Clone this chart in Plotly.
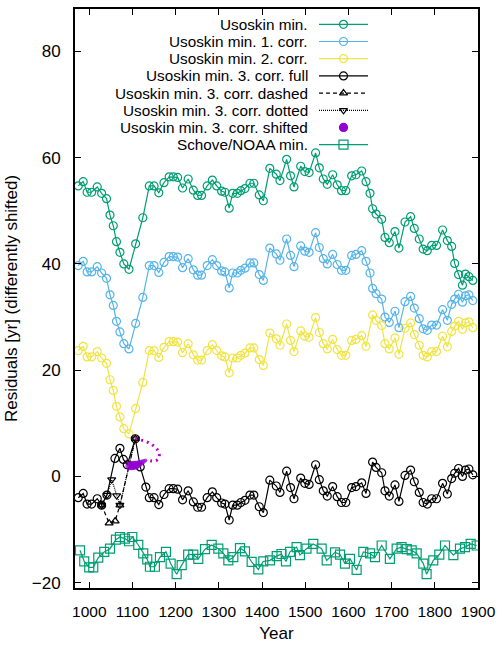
import plotly.graph_objects as go

# ---------------- data ----------------
years_usoskin = [974.5, 986, 995, 1005.5, 1018.5, 1028.6, 1040, 1048, 1055.6, 1063,
                 1071, 1080, 1092, 1107.4, 1124, 1139, 1150, 1161, 1173, 1185,
                 1194.5, 1204.7, 1216, 1229, 1241, 1251, 1260, 1273, 1285, 1295,
                 1306.5, 1314, 1324, 1332, 1342.7, 1351, 1360.5, 1372, 1381, 1393.6,
                 1403, 1418, 1433, 1441.5, 1457, 1466, 1474, 1489.5, 1499, 1509,
                 1524, 1532.6, 1541.8, 1551, 1563.5, 1574, 1584, 1594, 1607.5, 1617.5,
                 1630.7, 1640.7, 1650, 1656, 1664, 1677, 1684.6, 1694.6, 1707.8, 1717,
                 1731, 1744, 1752.5, 1764, 1773, 1782.6, 1792.7, 1804, 1818, 1829,
                 1839, 1846, 1855, 1864, 1871, 1879, 1888]

usoskin_min = [54.7, 55.5, 53.5, 53.5, 54.5, 53.3, 52.3, 49.2, 47.2, 44.2,
               42.2, 40.0, 39.0, 43.8, 48.7, 54.7, 54.7, 53.4, 55.3, 56.4,
               56.4, 56.3, 54.3, 56.0, 53.9, 52.9, 52.9, 54.7, 55.8, 54.7,
               53.7, 53.5, 50.5, 53.3, 53.3, 53.8, 54.2, 55.2, 55.2, 53.0,
               51.9, 58.0, 56.9, 55.7, 59.7, 56.6, 54.5, 58.4, 57.4, 57.2,
               60.9, 58.1, 56.0, 55.0, 56.8, 54.9, 53.8, 53.8, 56.6, 56.8,
               57.5, 55.5, 53.3, 50.4, 49.4, 48.4, 45.0, 44.0, 46.1, 43.0,
               47.9, 48.9, 46.7, 44.7, 42.8, 42.5, 43.5, 43.5, 46.4, 44.4,
               43.3, 40.1, 38.0, 36.0, 38.1, 37.6, 36.9]

usoskin_corr1 = [39.7, 40.5, 38.5, 38.5, 39.5, 38.3, 37.3, 34.2, 32.2, 29.2,
                 27.2, 25.0, 24.0, 28.8, 33.7, 39.7, 39.7, 38.4, 40.3, 41.4,
                 41.4, 41.3, 39.3, 41.0, 38.9, 37.9, 37.9, 39.7, 40.8, 39.7,
                 38.7, 38.5, 35.5, 38.3, 38.3, 38.8, 39.2, 40.2, 40.2, 38.0,
                 36.9, 43.0, 41.9, 40.7, 44.7, 41.6, 39.5, 43.4, 42.4, 42.2,
                 45.9, 43.1, 41.0, 40.0, 41.8, 39.9, 38.8, 38.8, 41.6, 41.8,
                 42.5, 40.5, 38.3, 35.4, 34.4, 33.4, 30.0, 29.0, 31.1, 28.0,
                 32.9, 33.9, 31.7, 29.7, 27.8, 27.5, 28.5, 28.5, 31.4, 29.4,
                 32.4, 33.4, 34.3, 32.8, 34.0, 34.2, 33.1]

years_corr2 = [974.5, 986, 995, 1005.5, 1018.5, 1028.6, 1040, 1048, 1055.6, 1063,
               1071, 1080, 1092, 1107.4, 1124, 1139, 1150, 1161, 1173, 1185,
               1194.5, 1204.7, 1216, 1229, 1241, 1251, 1260, 1273, 1285, 1295,
               1306.5, 1314, 1324, 1332, 1342.7, 1351, 1360.5, 1372, 1381, 1393.6,
               1403, 1418, 1433, 1441.5, 1457, 1466, 1474, 1489.5, 1499, 1509,
               1524, 1532.6, 1541.8, 1551, 1563.5, 1574, 1584, 1594, 1607.5, 1617.5,
               1630.7, 1640.7, 1656, 1664, 1677, 1684.6, 1694.6, 1707.8, 1717,
               1731, 1744, 1752.5, 1764, 1773, 1782.6, 1792.7, 1804, 1818, 1829,
               1839, 1846, 1855, 1864, 1871, 1879, 1888]

usoskin_corr2 = [23.7, 24.5, 22.5, 22.5, 23.5, 22.3, 21.3, 18.2, 16.2, 13.2,
                 11.2, 9.0, 8.0, 12.8, 17.7, 23.7, 23.7, 22.4, 24.3, 25.4,
                 25.4, 25.3, 23.3, 25.0, 22.9, 21.9, 21.9, 23.7, 24.8, 23.7,
                 22.7, 22.5, 19.5, 22.3, 22.3, 22.8, 23.2, 24.2, 24.2, 22.0,
                 20.9, 27.0, 25.9, 24.7, 28.7, 25.6, 23.5, 27.4, 26.4, 26.2,
                 29.9, 27.1, 25.0, 24.0, 25.8, 23.9, 22.8, 22.8, 25.6, 25.8,
                 26.5, 24.5, 30.4, 29.4, 28.4, 25.0, 24.0, 26.1, 23.0,
                 27.9, 28.9, 26.7, 24.7, 22.8, 22.5, 23.5, 23.5, 26.4, 24.4,
                 27.3, 28.3, 29.2, 27.7, 28.9, 29.1, 28.0]

years_corr3 = [974.5, 986, 995, 1005.5, 1018.5, 1028.6, 1041, 1059.5, 1071, 1079,
               1088, 1106.6, 1118, 1131, 1139, 1150, 1161, 1173, 1185,
               1194.5, 1204.7, 1216, 1229, 1241, 1251, 1260, 1273, 1285, 1295,
               1306.5, 1314, 1324, 1332, 1342.7, 1351, 1360.5, 1372, 1381, 1393.6,
               1403, 1418, 1433, 1441.5, 1457, 1466, 1474, 1489.5, 1499, 1509,
               1524, 1532.6, 1541.8, 1551, 1563.5, 1574, 1584, 1594, 1607.5, 1617.5,
               1630.7, 1640.7, 1656, 1664, 1677, 1684.6, 1694.6, 1707.8, 1717,
               1731, 1744, 1752.5, 1764, 1773, 1782.6, 1792.7, 1804, 1818, 1829,
               1839, 1846, 1855, 1864, 1871, 1879, 1888]

usoskin_corr3_full = [-4.0, -3.2, -5.2, -5.2, -4.2, -5.4, -3.5, 3.4, 5.3, 3.2,
                      2.2, 7.1, 1.8, -2.0, -4.0, -4.0, -5.3, -3.4, -2.3,
                      -2.3, -2.4, -4.4, -2.7, -4.8, -5.8, -5.8, -4.0, -2.9, -4.0,
                      -5.0, -5.2, -8.2, -5.4, -5.4, -4.9, -4.5, -3.5, -3.5, -5.7,
                      -6.8, -0.7, -1.8, -3.0, 1.0, -2.1, -4.2, -0.3, -1.3, -1.5,
                      2.2, -0.6, -2.7, -3.7, -1.9, -3.8, -4.9, -4.9, -2.1, -1.9,
                      -1.2, -3.2, 2.7, 1.7, 0.7, -2.7, -3.7, -1.6, -4.7,
                      0.2, 1.2, -1.0, -3.0, -4.9, -5.2, -4.2, -4.2, -1.3, -3.3,
                      -0.4, 0.6, 1.5, 0.0, 1.2, 1.4, 0.3]

years_dashed = [1028.6, 1046, 1060, 1071, 1106.6]
corr3_dashed = [-5.4, -8.8, -8.4, -5.4, 7.1]

years_dotted = [1028.6, 1041, 1052, 1063.4, 1071, 1106.6]
corr3_dotted = [-5.4, -3.5, -0.6, -3.6, -5.4, 7.1]

years_shifted = [1094, 1098, 1102, 1106, 1110, 1115, 1120, 1125, 1130]
corr3_shifted = [2.0, 2.0, 2.1, 2.1, 2.2, 2.4, 2.6, 2.8, 3.0]

arc_years = [1108, 1118, 1127, 1139, 1150, 1158, 1162, 1161, 1155, 1146, 1137]
arc_values = [7.1, 6.9, 6.7, 6.3, 5.7, 5.0, 4.2, 3.4, 3.0, 2.9, 3.0]

years_schove = [978.5, 988.4, 1000, 1009.3, 1020.9, 1034.7, 1048, 1061.8, 1071, 1082.7,
                1092, 1099.6, 1113.5, 1125, 1134.3, 1140.5, 1152, 1163.7, 1177.6, 1188.4,
                1202.3, 1214, 1229, 1240.8, 1252.4, 1268, 1283.4, 1298.8, 1310.4, 1322,
                1333.5, 1349, 1360.5, 1376, 1391.4, 1402.9, 1418.4, 1434, 1445, 1455.4,
                1464.7, 1480, 1487.8, 1503, 1518.6, 1538, 1549.7, 1569, 1580.5, 1592,
                1603.6, 1619, 1634.5, 1650, 1661.5, 1677, 1696, 1711.7, 1723, 1735,
                1746.5, 1758, 1773.4, 1781, 1796.5, 1810.4, 1823.6, 1843, 1858.3, 1870,
                1883, 1897]
schove_min = [-13.9, -16.0, -17.1, -17.1, -15.3, -14.2, -13.6, -11.9, -11.4, -11.7,
              -12.2, -11.4, -12.9, -14.5, -15.6, -17.0, -17.0, -15.2, -14.2, -16.4,
              -18.4, -16.7, -14.7, -14.7, -15.5, -13.7, -12.9, -13.6, -14.5, -15.8,
              -15.2, -13.5, -14.1, -16.1, -17.5, -16.0, -15.8, -15.0, -14.6, -16.0,
              -14.2, -13.3, -14.8, -13.6, -12.7, -13.6, -15.8, -14.3, -14.7, -16.4,
              -15.5, -17.6, -14.2, -14.5, -15.2, -13.0, -15.5, -13.6, -13.3, -13.7,
              -13.9, -14.5, -16.4, -18.4, -15.8, -14.7, -13.0, -14.8, -13.6, -13.3,
              -12.7, -13.0]

legend_names = ["Usoskin min.", "Usoskin min. 1. corr.", "Usoskin min. 2. corr.",
                "Usoskin min. 3. corr. full", "Usoskin min. 3. corr. dashed",
                "Usoskin min. 3. corr. dotted", "Usoskin min. 3. corr. shifted",
                "Schove/NOAA min."]

x_ticks = [1000, 1100, 1200, 1300, 1400, 1500, 1600, 1700, 1800, 1900]
y_ticks = [-20, 0, 20, 40, 60, 80]

# ---------------- style ----------------
GREEN = "#009e73"
BLUE = "#56b4e9"
YELLOW = "#f0e442"
BLACK = "#000000"
PURPLE = "#9400d3"
MAGENTA = "#c000c0"
FONT = "Liberation Sans, Arial, Helvetica, sans-serif"

styles = [
    dict(color=GREEN, dash="solid", symbol="circle-open", mode="lines+markers", size=8),
    dict(color=BLUE, dash="solid", symbol="circle-open", mode="lines+markers", size=8),
    dict(color=YELLOW, dash="solid", symbol="circle-open", mode="lines+markers", size=8),
    dict(color=BLACK, dash="solid", symbol="circle-open", mode="lines+markers", size=8),
    dict(color=BLACK, dash="4px,3px", symbol="triangle-up-open", mode="lines+markers", size=7),
    dict(color=BLACK, dash="1px,1px", symbol="triangle-down-open", mode="lines+markers", size=7),
    dict(color=PURPLE, dash="solid", symbol="circle", mode="markers", size=8),
    dict(color=GREEN, dash="solid", symbol="square-open", mode="lines+markers", size=9),
]

series = [
    (years_usoskin, usoskin_min),
    (years_usoskin, usoskin_corr1),
    (years_corr2, usoskin_corr2),
    (years_corr3, usoskin_corr3_full),
    (years_dashed, corr3_dashed),
    (years_dotted, corr3_dotted),
    (years_shifted, corr3_shifted),
    (years_schove, schove_min),
]

fig = go.Figure()

for i, ((xs, ys), st) in enumerate(zip(series, styles)):
    if i == 6:
        # dotted arc showing the shift
        fig.add_trace(go.Scatter(
            x=[years_corr3[11]] + arc_years, y=[usoskin_corr3_full[11]] + arc_values,
            mode="lines", line=dict(color=MAGENTA, width=3, dash="2px,4px", shape="spline"),
            showlegend=False, hoverinfo="skip"))
        fig.add_trace(go.Scatter(
            x=xs, y=ys, mode="markers",
            marker=dict(symbol="circle", color=PURPLE,
                        size=[9, 9, 9, 9, 8, 7, 6, 5, 4], line=dict(width=0)),
            showlegend=False))
        continue
    fig.add_trace(go.Scatter(
        x=xs, y=ys, mode=st["mode"],
        line=dict(color=st["color"], width=1.2, dash=st["dash"]),
        marker=dict(symbol=st["symbol"], size=st["size"], color=st["color"],
                    line=dict(width=1.2, color=st["color"])),
        showlegend=False))

# ---------------- custom legend (text on the left of the sample) ----------------
L, R, T, B = 75, 478, 7, 593
W, H = R - L, B - T
def px2paper_x(px):
    return (px - L) / W
def px2paper_y(py):
    return (B - py) / H

annotations = []
for i, (name, st) in enumerate(zip(legend_names, styles)):
    py = 22.5 + 17.4 * i
    yy = px2paper_y(py)
    annotations.append(dict(
        x=px2paper_x(309), y=yy, xref="paper", yref="paper", xanchor="right",
        yanchor="middle", text=name, showarrow=False, borderpad=0,
        font=dict(family=FONT, size=15.3, color="black")))
    if st["mode"] == "lines+markers":
        fig.add_trace(go.Scatter(
            x=[px2paper_x(319), px2paper_x(368)], y=[yy, yy], xaxis="x2", yaxis="y2",
            mode="lines", line=dict(color=st["color"], width=1.2, dash=st["dash"]),
            showlegend=False, hoverinfo="skip"))
    fig.add_trace(go.Scatter(
        x=[px2paper_x(343.5)], y=[yy], xaxis="x2", yaxis="y2", mode="markers",
        marker=dict(symbol=st["symbol"], size=st["size"], color=st["color"],
                    line=dict(width=1.2, color=st["color"])),
        showlegend=False, hoverinfo="skip"))

axis_common = dict(
    showline=True, linecolor="black", linewidth=2, mirror="ticks",
    ticks="inside", ticklen=6, tickwidth=1, tickcolor="black",
    showgrid=False, zeroline=False,
)

fig.update_layout(
    width=504, height=647,
    margin=dict(l=L, r=504 - R, t=T, b=647 - B),
    paper_bgcolor="white", plot_bgcolor="white",
    showlegend=False,
    font=dict(family=FONT, size=17, color="black"),
    xaxis=dict(range=[967, 1900], tickvals=x_ticks, ticklabelstandoff=8,
               tickfont=dict(family=FONT, size=15.5, color="black"),
               title=dict(text="Year", standoff=9, font=dict(family=FONT, size=17)),
               **axis_common),
    yaxis=dict(range=[-21, 88], tickvals=y_ticks, ticklabelstandoff=9,
               tickfont=dict(family=FONT, size=17, color="black"),
               title=dict(text="Residuals [yr] (differently shifted)", standoff=10,
                          font=dict(family=FONT, size=17)),
               **axis_common),
    xaxis2=dict(range=[0, 1], overlaying="x", visible=False, fixedrange=True),
    yaxis2=dict(range=[0, 1], overlaying="y", visible=False, fixedrange=True),
    annotations=annotations,
)

fig.write_html("out.html")
